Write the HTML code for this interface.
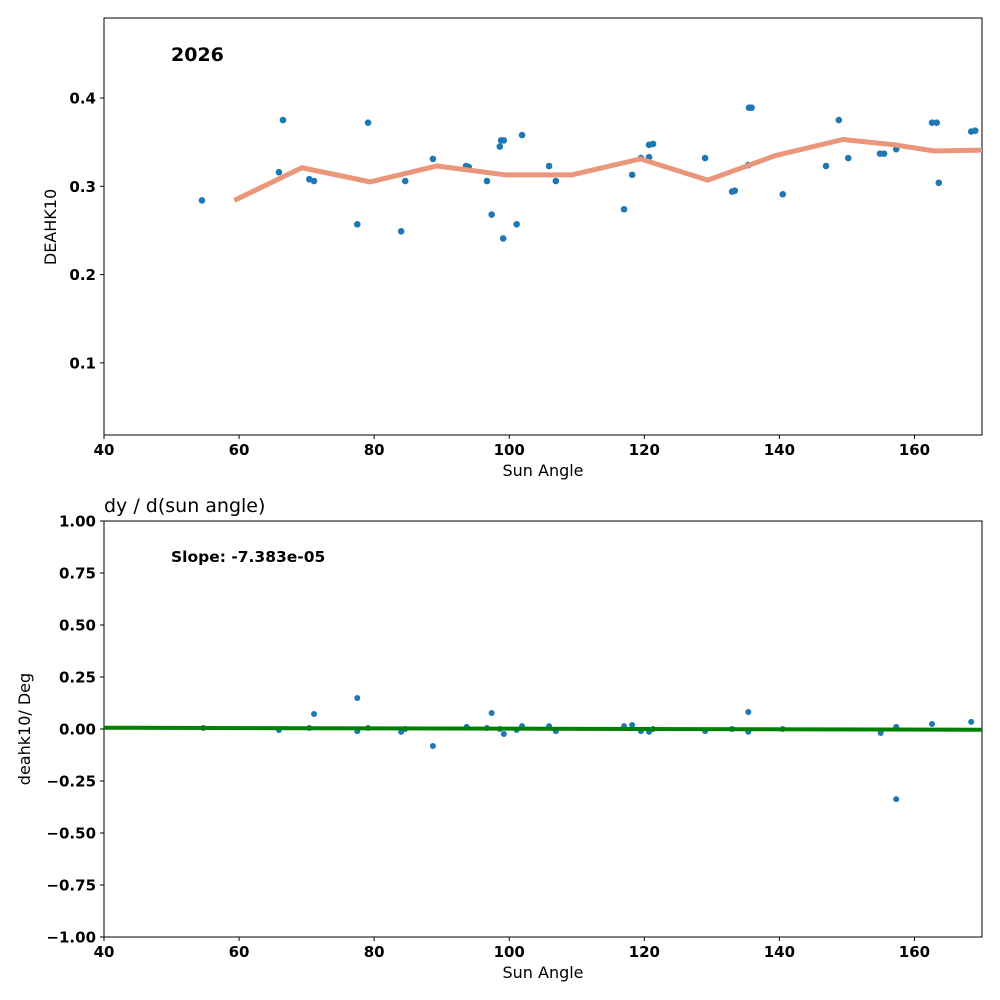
<!DOCTYPE html>
<html><head><meta charset="utf-8"><style>
body{margin:0;background:#fff}
svg{display:block;font-family:"DejaVu Sans","Liberation Sans",sans-serif}
</style></head><body>
<svg id="chart" width="1000" height="1000" viewBox="0 0 1000 1000"></svg>
<script>
const ptX=[54.5,65.9,66.5,70.4,71.1,77.5,79.1,84.0,84.6,88.7,93.6,94.0,96.7,97.4,98.6,98.8,99.2,99.1,101.1,101.9,105.9,106.9,117.0,118.2,119.5,120.7,120.7,121.3,129.0,133.0,133.4,135.4,135.5,135.9,140.5,146.9,148.8,150.2,154.9,155.5,157.3,162.6,163.3,163.6,168.4,169.0];
const ptY=[0.284,0.316,0.375,0.308,0.306,0.257,0.372,0.249,0.306,0.331,0.323,0.322,0.306,0.268,0.345,0.352,0.352,0.241,0.257,0.358,0.323,0.306,0.274,0.313,0.332,0.333,0.347,0.348,0.332,0.294,0.295,0.324,0.389,0.389,0.291,0.323,0.375,0.332,0.337,0.337,0.342,0.372,0.372,0.304,0.362,0.363];
const avgX=[59.3,69.3,79.4,89.3,99.4,109.3,119.4,129.4,139.5,149.4,157,163,170];
const avgY=[0.284,0.321,0.305,0.323,0.313,0.313,0.331,0.307,0.335,0.353,0.347,0.340,0.341];
const dX=[54.7,65.9,70.4,71.1,77.5,77.5,79.1,84.0,84.6,88.7,93.7,96.7,97.4,98.6,99.2,101.1,101.9,105.9,106.9,117.0,118.2,119.5,120.7,121.3,129.0,133.0,135.4,135.4,140.5,155.0,157.3,157.3,162.6,168.4];
const dY=[0.005,-0.005,0.005,0.072,0.149,-0.01,0.005,-0.014,0,-0.082,0.01,0.005,0.077,0,-0.024,-0.005,0.014,0.014,-0.01,0.014,0.019,-0.01,-0.014,0,-0.01,0,0.082,-0.014,0,-0.019,0.01,-0.337,0.024,0.034];
const slope=-7.383e-05, intercept0=0.006;
const xTicks=[40,60,80,100,120,140,160];
const yTicksTop=[0.1,0.2,0.3,0.4];
const yTicksBot=[-1,-0.75,-0.5,-0.25,0,0.25,0.5,0.75,1];

const svg=document.getElementById('chart');
const NS='http://www.w3.org/2000/svg';
function mk(tag,attrs,parent){const e=document.createElementNS(NS,tag);for(const k in attrs)e.setAttribute(k,attrs[k]);(parent||svg).appendChild(e);return e;}
const L=104,R=982;
const sx=v=>L+(v-40)/(170-40)*(R-L);
const syT=v=>98+(0.4-v)*883;
const syB=v=>729-v*208;

function axes(top,bot,sy,yt,fmt,name){
  const g=mk('g',{});
  
  
  mk('rect',{x:L,y:top,width:R-L,height:bot-top,fill:'none',stroke:'#000','stroke-width':1},g);
  xTicks.forEach(t=>{const x=sx(t);
    mk('line',{x1:x,x2:x,y1:bot,y2:bot+4,stroke:'#000'},g);
    const tx=mk('text',{x:x,y:bot+20,'text-anchor':'middle','font-size':15,'font-weight':'bold'},g);tx.textContent=t;
    });
  yt.forEach(t=>{const y=sy(t);
    mk('line',{x1:L-4,x2:L,y1:y,y2:y,stroke:'#000'},g);
    const tx=mk('text',{x:L-8,y:y+5.5,'text-anchor':'end','font-size':15,'font-weight':'bold'},g);tx.textContent=fmt(t);
    });
  const xl=mk('text',{x:(L+R)/2,y:bot+41,'text-anchor':'middle','font-size':16},g);xl.textContent='Sun Angle';
  
  return g;
}
axes(18,435,syT,yTicksTop,t=>t.toFixed(1),'top-axes');
axes(521,937,syB,yTicksBot,t=>t<0?'\u2212'+(-t).toFixed(2):t.toFixed(2),'bottom-axes');

let t=mk('text',{x:0,y:0,'font-size':16,transform:'translate(56,227) rotate(-90)','text-anchor':'middle'});t.textContent='DEAHK10';

t=mk('text',{x:0,y:0,'font-size':16,transform:'translate(30,729) rotate(-90)','text-anchor':'middle'});t.textContent='deahk10/ Deg';

t=mk('text',{x:171,y:61,'font-size':19,'font-weight':'bold'});t.textContent='2026';

t=mk('text',{x:104,y:512,'font-size':19});t.textContent='dy / d(sun angle)';

t=mk('text',{x:171,y:562,'font-size':15.5,'font-weight':'bold'});t.textContent='Slope: -7.383e-05';


const defs=mk('defs',{});
const c1=mk('clipPath',{id:'c1'},defs);mk('rect',{x:L,y:18,width:R-L,height:417},c1);
const c2=mk('clipPath',{id:'c2'},defs);mk('rect',{x:L,y:521,width:R-L,height:416},c2);

const gT=mk('g',{'clip-path':'url(#c1)'});
ptX.forEach((x,i)=>{const c=mk('circle',{cx:sx(x),cy:syT(ptY[i]),r:3.3,fill:'#1f77b4'},gT);
  });
const pl=mk('polyline',{points:avgX.map((x,i)=>sx(x)+','+syT(avgY[i])).join(' '),fill:'none',stroke:'#e9967a','stroke-width':5,'stroke-linejoin':'round'},gT);


const gB=mk('g',{'clip-path':'url(#c2)'});
dX.forEach((x,i)=>{const c=mk('circle',{cx:sx(x),cy:syB(dY[i]),r:3,fill:'#1f77b4'},gB);
  });
const fl=mk('line',{x1:sx(40),y1:syB(intercept0),x2:sx(170),y2:syB(intercept0+slope*130),stroke:'#008000','stroke-width':4},gB);

</script>
</body></html>
